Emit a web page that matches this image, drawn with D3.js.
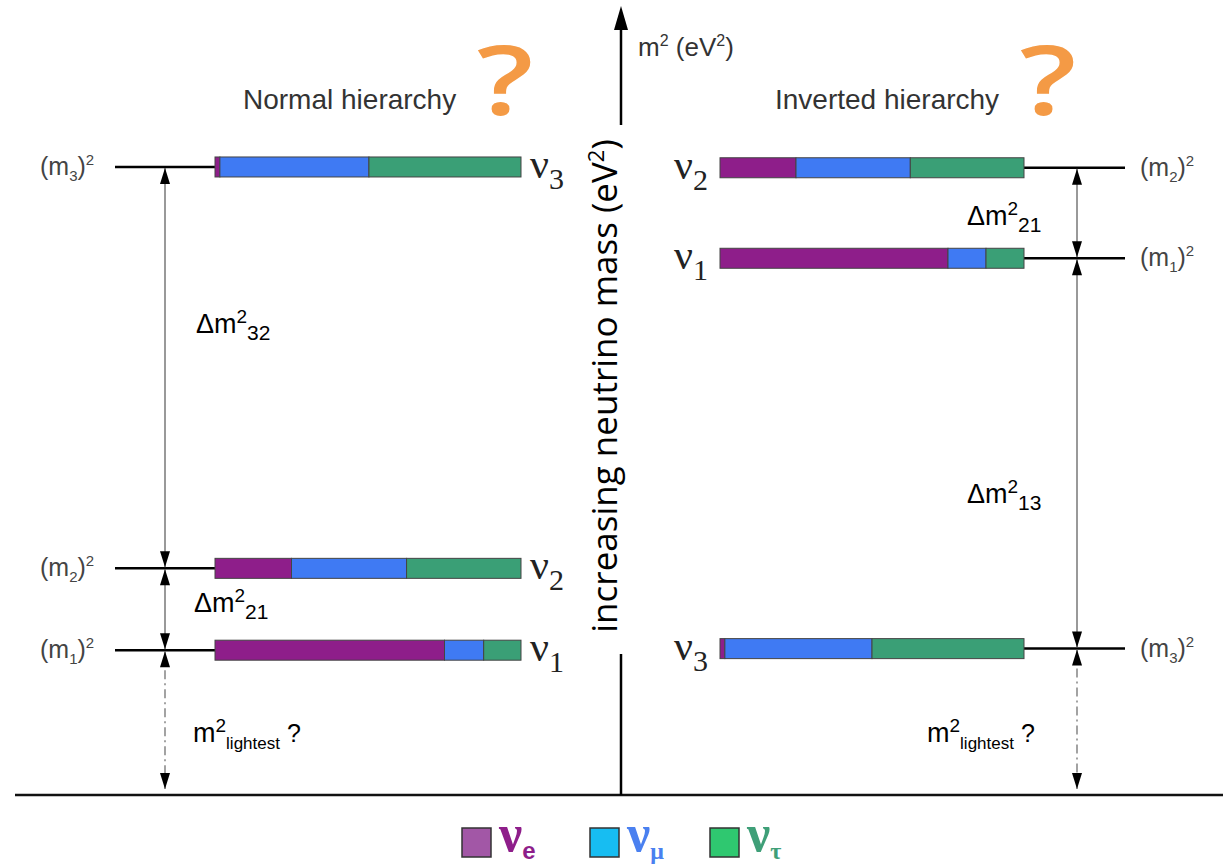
<!DOCTYPE html>
<html>
<head>
    <script src="https://d3js.org/d3.v7.min.js"></script>
    <style>
        body { margin: 0; background: white; }
        text { font-family: "Liberation Sans", Arial, sans-serif; }
        .serif { font-family: "Liberation Serif", "Times New Roman", serif; }
    </style>
</head>
<body>
    <div id="chart"></div>
    <script>
        // mass-squared levels, in units of the axis (0 = baseline, 1 = arrow tip)
        const normalStates = ['ν3', 'ν2', 'ν1']
        const normalLevels = [0.798, 0.288, 0.184]
        const normalFlavours = [[0.016, 0.487, 0.497], [0.25, 0.376, 0.374], [0.75, 0.128, 0.122]]
        const invertedStates = ['ν2', 'ν1', 'ν3']
        const invertedLevels = [0.797, 0.682, 0.186]
        const invertedFlavours = [[0.25, 0.376, 0.374], [0.75, 0.125, 0.125], [0.016, 0.484, 0.50]]
        const flavours = ['e', 'μ', 'τ']
        const barColours = ['#8e1e8a', '#3f7af3', '#3a9f76']
        const legendColours = ['#a257a6', '#17bdf2', '#2fc870']
        const legendText = ['#8e1e8a', '#4a80f0', '#3f9f78']

        const W = 1223, H = 867
        const svg = d3.select('#chart').append('svg').attr('width', W).attr('height', H)

        const y = d3.scaleLinear().domain([0, 1]).range([795, 8])
        const xL = d3.scaleLinear().domain([0, 1]).range([215, 521])
        const xR = d3.scaleLinear().domain([0, 1]).range([720, 1024])
        const barH = 20

        svg.append('defs').selectAll('marker')
            .data(['up', 'down'])
            .enter().append('marker')
            .attr('id', d => 'arr-' + d)
            .attr('viewBox', '0 0 10 16')
            .attr('refX', 5).attr('refY', d => d === 'up' ? 0 : 16)
            .attr('markerWidth', 10).attr('markerHeight', 17)
            .attr('markerUnits', 'userSpaceOnUse')
            .attr('orient', '0')
            .append('path')
            .attr('d', d => d === 'up' ? 'M0,16 L5,0 L10,16 Z' : 'M0,0 L5,16 L10,0 Z')
            .attr('fill', '#000')

        // baseline and central axis
        svg.append('line').attr('x1', 15).attr('x2', W).attr('y1', y(0)).attr('y2', y(0))
            .attr('stroke', '#111').attr('stroke-width', 2.5)
        svg.append('line').attr('x1', 621).attr('x2', 621).attr('y1', 125).attr('y2', 20)
            .attr('stroke', '#000').attr('stroke-width', 2.5)
        svg.append('path').attr('d', 'M614,30 L621,6 L628,30 Z').attr('fill', '#000')
        svg.append('line').attr('x1', 621).attr('x2', 621).attr('y1', 654).attr('y2', y(0))
            .attr('stroke', '#000').attr('stroke-width', 2.5)

        function rich(x, yy, parts, opts = {}) {
            const t = svg.append('text').attr('x', x).attr('y', yy)
                .attr('fill', opts.fill || '#000')
                .attr('class', opts.cls || null)
                .attr('font-weight', opts.weight || null)
                .attr('xml:space', 'preserve')
            let shift = 0
            parts.forEach(p => {
                const ts = t.append('tspan').text(p.t).attr('font-size', p.s)
                const off = (p.d || 0) - shift
                if (off) ts.attr('dy', off)
                if (p.f) ts.style('font-family', p.f)
                shift = p.d || 0
            })
            return t
        }

        rich(638, 56, [{ t: 'm', s: 26 }, { t: '2', s: 16, d: -10 }, { t: ' (eV', s: 26 }, { t: '2', s: 16, d: -10 }, { t: ')', s: 26 }], { fill: '#333' })

        const axisLabel = svg.append('text')
            .attr('transform', 'translate(617,386) rotate(-90)')
            .attr('text-anchor', 'middle')
            .attr('font-size', 35)
            .style('font-family', '"Open Sans", "Noto Sans", sans-serif')
        axisLabel.append('tspan').text('increasing neutrino mass (eV')
        axisLabel.append('tspan').attr('font-size', 22).attr('dy', -13).text('2')
        axisLabel.append('tspan').attr('dy', 13).text(')')

        // titles and question marks
        svg.append('text').attr('x', 243).attr('y', 109).attr('font-size', 28).attr('fill', '#333').text('Normal hierarchy')
        svg.append('text').attr('x', 775).attr('y', 109).attr('font-size', 28).attr('fill', '#333').text('Inverted hierarchy')
        ;[505, 1048].forEach(cx => {
            svg.append('text').attr('transform', `translate(${cx},115) scale(1.3,1)`)
                .attr('text-anchor', 'middle')
                .attr('font-size', 96).attr('font-weight', 600).attr('fill', '#f49a45')
                .style('font-family', '"Open Sans", sans-serif').text('?')
        })

        function panel(states, levels, fracs, x, side) {
            const left = side === 'left'
            const arrowX = left ? 165 : 1077
            const lineA = left ? 115 : x.range()[1]
            const lineB = left ? x.range()[0] : 1125
            states.forEach((s, i) => {
                const cy = y(levels[i])
                svg.append('line').attr('x1', lineA).attr('x2', lineB).attr('y1', cy).attr('y2', cy)
                    .attr('stroke', '#000').attr('stroke-width', 2.5)
                let acc = 0
                fracs[i].forEach((f, j) => {
                    svg.append('rect').attr('x', x(acc)).attr('y', cy - barH / 2)
                        .attr('width', x(acc + f) - x(acc)).attr('height', barH)
                        .attr('fill', barColours[j]).attr('stroke', '#444').attr('stroke-width', 1)
                    acc += f
                })
                const idx = s.slice(1)
                rich(left ? 40 : 1140, cy + 8, [{ t: '(m', s: 25 }, { t: idx, s: 15, d: 6 }, { t: ')', s: 25 }, { t: '2', s: 15, d: -10 }], { fill: '#444' })
                const nx = left ? x.range()[1] + 9 : x.range()[0] - 46
                rich(nx, cy + 11, [{ t: 'ν', s: 42 }, { t: idx, s: 30, d: 11 }], { cls: 'serif', fill: '#222' })
            })
            // gaps between successive levels
            const sorted = levels.slice().sort((a, b) => b - a)
            for (let i = 0; i < sorted.length - 1; i++) {
                svg.append('line').attr('x1', arrowX).attr('x2', arrowX)
                    .attr('y1', y(sorted[i]) + 1).attr('y2', y(sorted[i + 1]) - 1)
                    .attr('stroke', '#555').attr('stroke-width', 1.2)
                    .attr('marker-start', 'url(#arr-up)').attr('marker-end', 'url(#arr-down)')
            }
            const lowest = sorted[sorted.length - 1]
            svg.append('line').attr('x1', arrowX).attr('x2', arrowX)
                .attr('y1', y(lowest) + 1).attr('y2', y(0) - 6)
                .attr('stroke', '#666').attr('stroke-width', 1.2).attr('stroke-dasharray', '9,4,2,4')
                .attr('marker-start', 'url(#arr-up)').attr('marker-end', 'url(#arr-down)')
        }

        panel(normalStates, normalLevels, normalFlavours, xL, 'left')
        panel(invertedStates, invertedLevels, invertedFlavours, xR, 'right')

        const delta = (x, yy, sub) => rich(x, yy, [{ t: 'Δm', s: 27 }, { t: '2', s: 19, d: -10 }, { t: sub, s: 21, d: 7 }])
        delta(196, 333, '32')
        delta(194, 612, '21')
        delta(967, 225, '21')
        delta(967, 503, '13')
        const lightest = x => rich(x, 742, [{ t: 'm', s: 27 }, { t: '2', s: 19, d: -10 }, { t: 'lightest', s: 17, d: 7 }, { t: ' ?', s: 25, d: 0 }])
        lightest(193)
        lightest(927)

        // legend
        const lx = [462, 590, 710]
        flavours.forEach((f, i) => {
            svg.append('rect').attr('x', lx[i]).attr('y', 828).attr('width', 29).attr('height', 29)
                .attr('fill', legendColours[i]).attr('stroke', '#333').attr('stroke-width', 1.5)
            rich(lx[i] + 37, 851, [{ t: 'ν', s: 52 }, { t: f, s: 24, d: 8, f: f === 'e' ? '"Liberation Sans", sans-serif' : null }],
                { cls: 'serif', fill: legendText[i], weight: 'bold' })
        })
    </script>
</body>
</html>
